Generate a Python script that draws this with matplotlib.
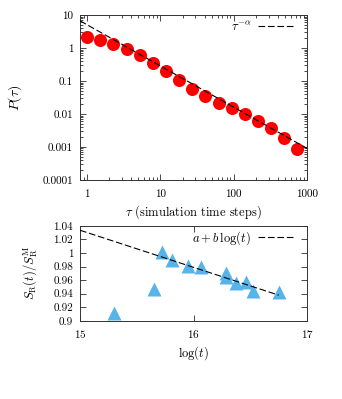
import numpy as np
import matplotlib
matplotlib.use('Agg')
import matplotlib.pyplot as plt
from matplotlib.ticker import FixedLocator, NullFormatter, LogLocator

plt.rcParams['font.family'] = 'serif'
plt.rcParams['font.serif'] = ['cmr10']
plt.rcParams['mathtext.fontset'] = 'cm'
plt.rcParams['axes.formatter.use_mathtext'] = True
plt.rcParams['font.size'] = 8

# top panel: waiting-time distribution
tau = [1.0, 1.51, 2.28, 3.45, 5.2, 7.9, 11.9, 18.0, 27.2, 41.0, 62.0, 93.7, 141.5, 214.0, 323.0, 488.0, 737.0]
p_tau = [2.11, 1.75, 1.32, 0.91, 0.61, 0.36, 0.20, 0.107, 0.057, 0.035, 0.022, 0.0149,
         0.0100, 0.0063, 0.0037, 0.0019, 0.00085]
fit_C = 5.1
fit_alpha = 1.25

top_yticks = [1e-4, 1e-3, 1e-2, 1e-1, 1, 10]
top_yticklabels = ['0.0001', '0.001', '0.01', '0.1', '1', '10']
top_xticks = [1, 10, 100, 1000]
top_xticklabels = ['1', '10', '100', '1000']

# bottom panel: S_R(t)/S_R^M vs log(t)
log_t = [15.30, 15.655, 15.725, 15.808, 15.954, 16.063, 16.286, 16.286, 16.374, 16.463, 16.527, 16.756]
s_ratio = [0.912, 0.947, 1.002, 0.989, 0.981, 0.980, 0.970, 0.964, 0.955, 0.957, 0.944, 0.942]
fit_a = 1.0335
fit_b = -0.0547
fit_range = [15.0, 16.75]

bot_yticks = [0.9, 0.92, 0.94, 0.96, 0.98, 1.0, 1.02, 1.04]
bot_yticklabels = ['0.9', '0.92', '0.94', '0.96', '0.98', '1', '1.02', '1.04']
bot_xticks = [15, 16, 17]

fig = plt.figure(figsize=(3.42, 3.99), dpi=100)
ax1 = fig.add_axes([0.234, 0.549, 0.664, 0.413])
ax2 = fig.add_axes([0.234, 0.196, 0.664, 0.238])

# top
xx = np.logspace(np.log10(0.8), 3, 100)
ax1.plot(xx, fit_C * xx ** (-fit_alpha), color='black', lw=0.8, dashes=(6, 2.5),
         label=r'$\tau^{-\alpha}$', zorder=3)
ax1.plot(tau, p_tau, 'o', color='#ff0000', ms=9.4, mec='none', zorder=2)
ax1.set_xscale('log')
ax1.set_yscale('log')
ax1.set_xlim(0.8, 1000)
ax1.set_ylim(1e-4, 10)
ax1.xaxis.set_major_locator(FixedLocator(top_xticks))
ax1.set_xticklabels(top_xticklabels)
ax1.yaxis.set_major_locator(FixedLocator(top_yticks))
ax1.set_yticklabels(top_yticklabels)
ax1.xaxis.set_minor_locator(LogLocator(base=10, subs=np.arange(2, 10)))
ax1.yaxis.set_minor_locator(LogLocator(base=10, subs=np.arange(2, 10)))
ax1.xaxis.set_minor_formatter(NullFormatter())
ax1.yaxis.set_minor_formatter(NullFormatter())
ax1.set_xlabel(r'$\tau$ (simulation time steps)', fontsize=9, labelpad=3)
ax1.set_ylabel(r'$P(\tau)$', fontsize=10, labelpad=13)
ax1.legend(loc='upper right', bbox_to_anchor=(0.938, 0.97), frameon=False,
           markerfirst=False, fontsize=9, handlelength=2.8, borderpad=0,
           borderaxespad=0, handletextpad=0.55)

# bottom
tt = np.linspace(fit_range[0], fit_range[1], 50)
ax2.plot(tt, fit_a + fit_b * (tt - 15), color='black', lw=0.8, dashes=(6, 2.5),
         label=r'$a + b\,\log(t)$', zorder=3)
ax2.plot(log_t, s_ratio, '^', color='#56b4e9', ms=9.5, mec='none', zorder=2)
ax2.set_xlim(15, 17)
ax2.set_ylim(0.9, 1.04)
ax2.xaxis.set_major_locator(FixedLocator(bot_xticks))
ax2.yaxis.set_major_locator(FixedLocator(bot_yticks))
ax2.set_yticklabels(bot_yticklabels)
ax2.set_xlabel(r'$\log(t)$', fontsize=9, labelpad=3)
ax2.set_ylabel(r'$S_{\rm R}(t)/S_{\rm R}^{\rm M}$', fontsize=9, labelpad=10)
ax2.legend(loc='upper right', bbox_to_anchor=(0.938, 0.965), frameon=False,
           markerfirst=False, fontsize=9, handlelength=2.8, borderpad=0,
           borderaxespad=0, handletextpad=0.55)

for ax in (ax1, ax2):
    ax.tick_params(which='both', direction='in', top=True, right=True, width=0.5)
    ax.tick_params(which='major', length=4, pad=5)
    ax.tick_params(which='minor', length=2)
    for s in ax.spines.values():
        s.set_linewidth(0.7)
        s.set_color('#333333')
ax1.tick_params(axis='x', which='major', pad=7)

fig.savefig('out.png', dpi=100)
